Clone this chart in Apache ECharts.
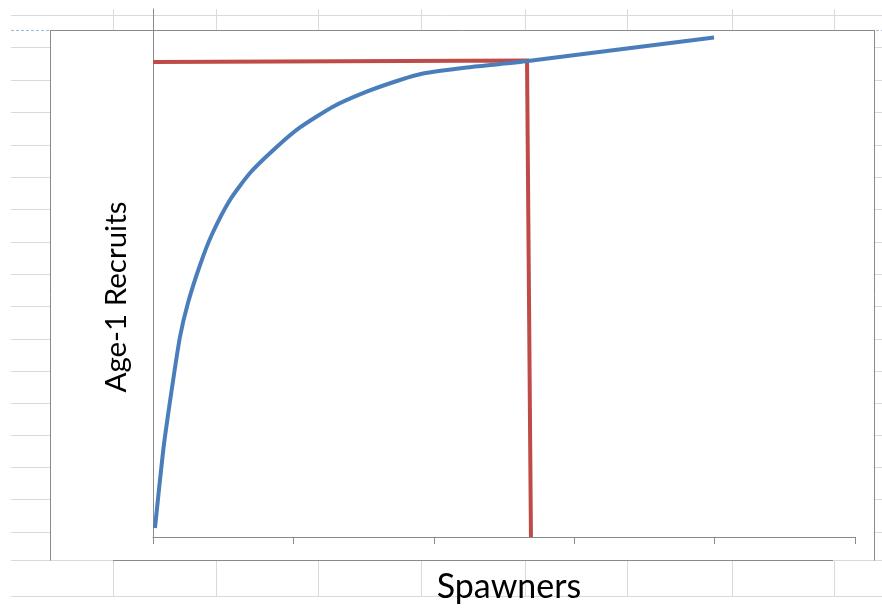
<!DOCTYPE html>
<html>
<head>
<meta charset="utf-8">
<script src="https://cdn.jsdelivr.net/npm/echarts@6/dist/echarts.min.js"></script>
<style>
html,body{margin:0;padding:0;background:#fff;}
#chart{width:882px;height:609px;}
</style>
</head>
<body>
<div id="chart"></div>
<script>
// Data (x: spawners, y: age-1 recruits, arbitrary units)
const curveX = [0.014, 0.073, 0.133, 0.192, 0.249, 0.335, 0.418, 0.548, 0.691, 0.881, 1.047, 1.282, 1.522, 1.759, 1.923, 2.234, 2.472, 2.671, 3.996];
const curveY = [1.70, 16.48, 27.84, 37.88, 44.32, 51.52, 57.20, 63.83, 68.94, 73.86, 77.56, 81.50, 84.34, 86.55, 87.78, 88.92, 89.58, 90.15, 94.60];
const refX = [0, 2.664, 2.692];
const refY = [89.96, 90.25, 0];
const xTicks = [0, 1, 2, 3, 4, 5];
const xTitle = 'Spawners';
const yTitle = 'Age-1 Recruits';

const chart = echarts.init(document.getElementById('chart'), null, {renderer: 'canvas'});

const light = '#dadada';
const dark = '#8a8a8a';
const els = [];
function ln(x1, y1, x2, y2, stroke, dash) {
  els.push({type: 'line', silent: true, z: -10,
    shape: {x1: x1, y1: y1, x2: x2, y2: y2},
    style: {stroke: stroke, lineWidth: 1, lineDash: dash || null}});
}
// spreadsheet row lines outside the chart box
const rows = [47, 80, 112, 145, 177, 209, 242, 274, 306, 339, 371, 403, 435, 467, 499, 532];
rows.forEach(y => { ln(11, y + 0.5, 50, y + 0.5, light); ln(875, y + 0.5, 882, y + 0.5, light); });
ln(11, 15.5, 882, 15.5, light);
ln(11, 596.5, 882, 596.5, light);
ln(11, 560.5, 113, 560.5, light);
ln(833, 560.5, 882, 560.5, light);
const cols = [113, 216, 318, 421, 525, 627, 732, 834];
cols.forEach(x => { ln(x + 0.5, 9, x + 0.5, 30, light); ln(x + 0.5, 561, x + 0.5, 596, light); });
// selection dashes
ln(11, 30.5, 50, 30.5, '#9db8e0', [3, 2]);
ln(876, 30.5, 882, 30.5, '#9db8e0', [3, 2]);
// chart box
ln(50.5, 30, 50.5, 560.5, dark);
ln(50, 30.5, 874.5, 30.5, dark);
ln(874.5, 30, 874.5, 560.5, dark);
ln(113, 560.5, 833, 560.5, dark);

els.push({type: 'text', x: 116, y: 297, rotation: Math.PI / 2, z: 10,
  style: {text: yTitle, fontSize: 29.5, fontFamily: 'Lato', fill: '#000', textAlign: 'center', textVerticalAlign: 'middle'}});
els.push({type: 'text', x: 509, y: 587, z: 10,
  style: {text: xTitle, fontSize: 34, fontFamily: 'Lato', fill: '#000', textAlign: 'center', textVerticalAlign: 'middle'}});

const option = {
  animation: false,
  backgroundColor: '#fff',
  grid: {left: 153, top: 9, right: 27, bottom: 72, containLabel: false},
  xAxis: {
    type: 'value', min: xTicks[0], max: xTicks[xTicks.length - 1], interval: 1,
    axisLine: {show: true, lineStyle: {color: dark, width: 1}},
    axisTick: {show: true, length: 7, lineStyle: {color: dark}},
    axisLabel: {show: false},
    splitLine: {show: false}
  },
  yAxis: {
    type: 'value', min: 0, max: 100,
    axisLine: {show: true, lineStyle: {color: dark, width: 1}},
    axisTick: {show: false},
    axisLabel: {show: false},
    splitLine: {show: false}
  },
  graphic: {elements: els},
  series: [
    {
      type: 'line', name: 'Recruits', smooth: 0.2, symbol: 'none',
      data: curveX.map((x, i) => [x, curveY[i]]),
      lineStyle: {color: '#4A7EBB', width: 4, cap: 'butt'},
      z: 3
    },
    {
      type: 'line', name: 'Reference', smooth: false, symbol: 'none',
      data: refX.map((x, i) => [x, refY[i]]),
      lineStyle: {color: '#BE4B48', width: 4, cap: 'butt', join: 'miter'},
      z: 2
    }
  ]
};
chart.setOption(option);
</script>
</body>
</html>
